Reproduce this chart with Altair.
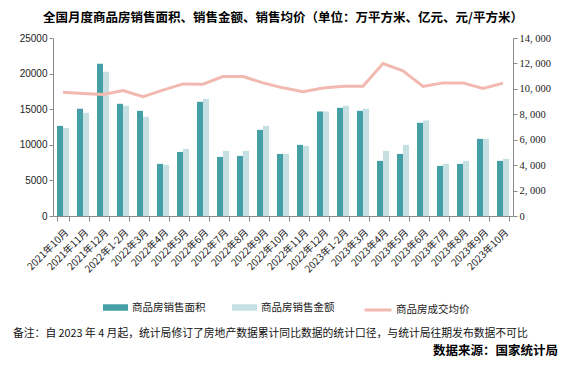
import altair as alt
import pandas as pd

months = ["2021年10月", "2021年11月", "2021年12月", "2022年1-2月", "2022年3月", "2022年4月",
          "2022年5月", "2022年6月", "2022年7月", "2022年8月", "2022年9月", "2022年10月",
          "2022年11月", "2022年12月", "2023年1-2月", "2023年3月", "2023年4月", "2023年5月",
          "2023年6月", "2023年7月", "2023年8月", "2023年9月", "2023年10月"]
area = [12660, 15060, 21390, 15760, 14770, 7320, 9000, 16040, 8300, 8440, 12100, 8720,
        9990, 14680, 15200, 14770, 7740, 8720, 13090, 7040, 7320, 10830, 7740]
amount = [12380, 14490, 20260, 15480, 13930, 7180, 9430, 16460, 9150, 9150, 12660, 8720,
          9850, 14680, 15480, 15060, 9150, 9990, 13410, 7320, 7740, 10830, 8020]
price = [9740, 9640, 9560, 9870, 9380, 9900, 10390, 10370, 10970, 10970, 10470, 10080,
         9770, 10060, 10210, 10210, 11990, 11410, 10190, 10470, 10470, 10030, 10450]

series_bar = ["商品房销售面积", "商品房销售金额"]
series_line = ["商品房成交均价"]
colors_bar = ["#44A0A6", "#C4E0E2"]
color_line = ["#F2B9B1"]

title_text = "全国月度商品房销售面积、销售金额、销售均价（单位：万平方米、亿元、元/平方米）"
note_text = "备注：自 2023 年 4 月起，统计局修订了房地产数据累计同比数据的统计口径，与统计局往期发布数据不可比"
source_text = "数据来源：国家统计局"

CJK = "Noto Sans CJK SC"

df = pd.DataFrame({"月份": months, series_bar[0]: area, series_bar[1]: amount,
                   series_line[0]: price, "均价系列": series_line[0]})

x_enc = alt.X("月份:N", sort=months,
              scale=alt.Scale(paddingInner=0.4, paddingOuter=0.2),
              axis=alt.Axis(title=None, labelAngle=-45, tickBand="extent",
                            labelFont=CJK, labelFontSize=10, labelColor="#222",
                            domainColor="#8a8a8a", tickColor="#8a8a8a", tickSize=5,
                            labelPadding=6))

bars = alt.Chart(df).transform_fold(series_bar, as_=["系列", "值"]).mark_bar().encode(
    x=x_enc,
    xOffset=alt.XOffset("系列:N", sort=series_bar, scale=alt.Scale(paddingInner=0, paddingOuter=0)),
    y=alt.Y("值:Q", scale=alt.Scale(domain=[0, 25000]),
            axis=alt.Axis(title=None, values=[0, 5000, 10000, 15000, 20000, 25000], format="d",
                          grid=False, labelFont="Liberation Sans", labelFontSize=10,
                          labelColor="#222", domainColor="#8a8a8a", tickColor="#8a8a8a",
                          tickSize=4)),
    fill=alt.Fill("系列:N", scale=alt.Scale(domain=series_bar, range=colors_bar),
                  legend=alt.Legend(orient="none", legendX=50, legendY=257, direction="horizontal",
                                    title=None, symbolType="M-1,-0.26H1V0.26H-1Z", symbolSize=625,
                                    symbolStrokeWidth=0, labelFont=CJK, labelFontSize=10.5,
                                    labelColor="#222", labelOffset=4, columnPadding=26, padding=0)),
)

line = alt.Chart(df).mark_line(strokeWidth=3).encode(
    x=x_enc,
    y=alt.Y(series_line[0] + ":Q", scale=alt.Scale(domain=[0, 14000]),
            axis=alt.Axis(title=None, orient="right",
                          values=[0, 2000, 4000, 6000, 8000, 10000, 12000, 14000],
                          labelExpr="replace(format(datum.value, ','), ',', ', ')",
                          grid=False, labelFont="Liberation Serif", labelFontSize=10.5,
                          labelColor="#222", domainColor="#8a8a8a", tickColor="#8a8a8a",
                          tickSize=4)),
    stroke=alt.Stroke("均价系列:N", scale=alt.Scale(domain=series_line, range=color_line),
                      legend=alt.Legend(orient="none", legendX=310, legendY=257, direction="horizontal",
                                        title=None, symbolType="stroke", symbolSize=729,
                                        symbolStrokeWidth=3, labelFont=CJK, labelFontSize=10.5,
                                        labelColor="#222", labelOffset=3, padding=0)),
)

title = alt.Chart(pd.DataFrame({"t": [title_text]})).mark_text(
    font=CJK, fontSize=12.5, fontWeight="bold", align="center", baseline="middle", color="#000"
).encode(text="t:N", x=alt.value(230), y=alt.value(-20))

note = alt.Chart(pd.DataFrame({"t": [note_text]})).mark_text(
    font=CJK, fontSize=10.8, align="left", baseline="middle", color="#111"
).encode(text="t:N", x=alt.value(-40), y=alt.value(296))

source = alt.Chart(pd.DataFrame({"t": [source_text]})).mark_text(
    font=CJK, fontSize=12.5, fontWeight="bold", align="right", baseline="middle", color="#000"
).encode(text="t:N", x=alt.value(505), y=alt.value(313))

chart = alt.layer(bars, line, title, note, source).resolve_scale(
    y="independent", fill="independent", stroke="independent"
).properties(
    width=460, height=178,
    autosize=alt.AutoSizeParams(type="none"),
    padding={"left": 45, "top": 30, "right": 48, "bottom": 144},
    background="white",
).configure_view(stroke=None)

chart.save("out.html", embed_options={"renderer": "svg", "actions": False})
